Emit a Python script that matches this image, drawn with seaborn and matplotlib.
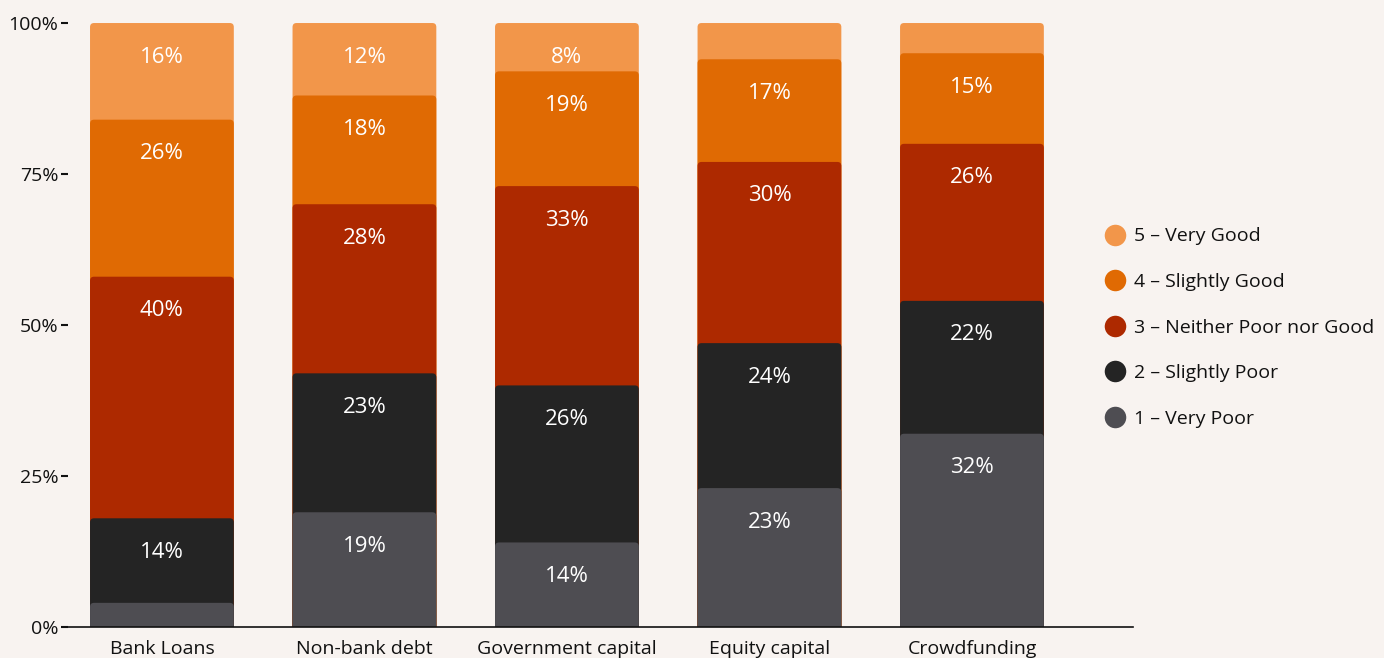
import numpy as np
import pandas as pd
import seaborn as sns
import matplotlib.pyplot as plt
from matplotlib.patches import FancyBboxPatch
from matplotlib.lines import Line2D
from matplotlib.ticker import FuncFormatter

# Survey data: share of respondents (%) per rating, for each funding source
sources = ["Bank Loans", "Non-bank debt", "Government capital", "Equity capital", "Crowdfunding"]
ratings = ["1 – Very Poor", "2 – Slightly Poor", "3 – Neither Poor nor Good",
           "4 – Slightly Good", "5 – Very Good"]
very_poor = [4, 19, 14, 23, 32]
slightly_poor = [14, 23, 26, 24, 22]
neither = [40, 28, 33, 30, 26]
slightly_good = [26, 18, 19, 17, 15]
very_good = [16, 12, 8, 6, 5]
yticks = [0, 25, 50, 75, 100]

colors = ["#4e4d52", "#242424", "#ad2900", "#e06a03", "#f2964a"]
bg = "#f8f3f0"

series = [very_poor, slightly_poor, neither, slightly_good, very_good]
vals = np.array(series, dtype=float)
cum = np.cumsum(vals, axis=0)

rows = []
for i, r in enumerate(ratings):
    for j, s in enumerate(sources):
        rows.append({"source": s, "rating": r, "value": vals[i, j],
                     "top": cum[i, j], "level": i})
df = pd.DataFrame(rows)

sns.set_theme(style="white")
plt.rcParams["font.family"] = ["Open Sans", "DejaVu Sans"]

fig = plt.figure(figsize=(13.84, 6.58), dpi=100, facecolor=bg)
ax = fig.add_axes([0.0491, 0.0471, 0.7695, 0.9179])
ax.set_facecolor(bg)

# Draw cumulative bars from the top level down so lower levels overlay
for lvl in range(len(ratings) - 1, -1, -1):
    sub = df[df["level"] == lvl]
    sns.barplot(data=sub, x="source", y="top", order=sources, color=colors[lvl],
                width=0.71, saturation=1, ax=ax, linewidth=0, errorbar=None)

# Swap plain rectangles for rounded ones with the same geometry
px_x = 202.5
px_y = 6.04
rads = 4.0 / px_x
aspect = px_x / px_y
old = list(ax.patches)
for z, p in enumerate(old):
    x, y, w, h = p.get_x(), p.get_y(), p.get_width(), p.get_height()
    fc = p.get_facecolor()
    p.remove()
    ext = 2.0
    fb = FancyBboxPatch((x, y - ext), w, h + ext,
                        boxstyle=f"round,pad=0,rounding_size={rads}",
                        mutation_aspect=aspect, facecolor=fc, edgecolor="none",
                        linewidth=0, zorder=2 + z * 0.01, clip_on=True)
    ax.add_patch(fb)

# Value labels near the top of each segment
for _, row in df.iterrows():
    if row["value"] >= 8:
        xi = sources.index(row["source"])
        ax.annotate(f"{int(row['value'])}%", xy=(xi, row["top"]),
                    xytext=(0, -24.5), textcoords="offset points",
                    ha="center", va="center", color="white", fontsize=16,
                    zorder=10)

ax.set_xlim(-0.464, 4.795)
ax.set_ylim(0, 100)
ax.set_yticks(yticks)
ax.yaxis.set_major_formatter(FuncFormatter(lambda v, _: f"{int(v)}%"))
ax.set_xlabel("")
ax.set_ylabel("")
for s in ["top", "right", "left"]:
    ax.spines[s].set_visible(False)
ax.spines["bottom"].set_color("#111111")
ax.spines["bottom"].set_linewidth(1.2)
ax.spines["bottom"].set_zorder(20)
ax.tick_params(axis="y", left=True, length=5, width=1.5, color="#111111",
               labelsize=14, pad=2, labelcolor="#111111")
ax.tick_params(axis="x", bottom=False, length=0, labelsize=14, pad=9,
               labelcolor="#111111")

handles = [Line2D([0], [0], marker="o", linestyle="", markersize=15.5,
                  markerfacecolor=colors[i], markeredgecolor="none")
           for i in range(len(ratings) - 1, -1, -1)]
labels = [ratings[i] for i in range(len(ratings) - 1, -1, -1)]
fig.legend(handles, labels, loc="center left", bbox_to_anchor=(0.783, 0.502),
           frameon=False, fontsize=14, labelspacing=1.42, handletextpad=0.3,
           handlelength=1.4, labelcolor="#111111")

fig.savefig("out.png", dpi=100, facecolor=bg)
